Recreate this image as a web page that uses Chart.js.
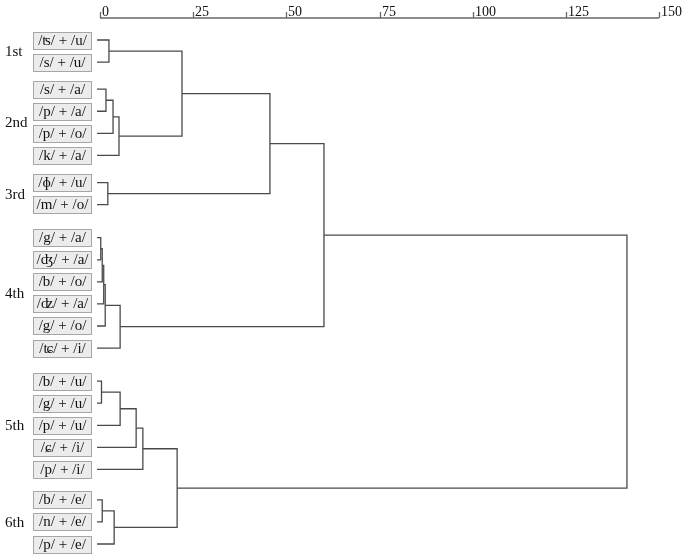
<!DOCTYPE html>
<html><head><meta charset="utf-8">
<script src="https://cdn.jsdelivr.net/npm/chart.js@4/dist/chart.umd.min.js"></script>
<style>html,body{margin:0;padding:0;background:#fff}#wrap{width:686px;height:557px}</style>
</head><body><div id="wrap"><canvas id="c" width="686" height="557"></canvas></div>
<script>
// ---- data ----
const groupNames = ['1st', '2nd', '3rd', '4th', '5th', '6th'];
const groupSizes = [2, 4, 2, 6, 5, 3];
const leafLabels = [
  '/ʦ/ + /u/', '/s/ + /u/',
  '/s/ + /a/', '/p/ + /a/', '/p/ + /o/', '/k/ + /a/',
  '/ɸ/ + /u/', '/m/ + /o/',
  '/g/ + /a/', '/ʤ/ + /a/', '/b/ + /o/', '/ʣ/ + /a/', '/g/ + /o/', '/ʨ/ + /i/',
  '/b/ + /u/', '/g/ + /u/', '/p/ + /u/', '/ɕ/ + /i/', '/p/ + /i/',
  '/b/ + /e/', '/n/ + /e/', '/p/ + /e/'
];
// merges: ids < 22 are leaves, id 22+k is the k-th merge below
const mergeA    = [8,   22,  23,  24,  14,  19,  2,   6,   0,   28,  27,  31,  25,  26,  35,  36,   37,   30,   39,   40,   41];
const mergeB    = [9,   10,  11,  12,  15,  20,  3,   7,   1,   4,   21,  5,   13,  16,  17,  18,   32,   33,   29,   34,   38];
const mergeDist = [0.2, 0.6, 1.0, 1.4, 0.4, 0.6, 1.6, 2.1, 2.4, 3.5, 3.8, 5.1, 5.4, 5.4, 9.7, 11.5, 20.7, 22.0, 45.6, 60.1, 141.4];
const xTicks = [0, 25, 50, 75, 100, 125, 150];

// ---- layout (derived) ----
const GROUP_GAPS = [0, 0.23, 0.23, 0.5, 0.5, 0.38]; // extra space before each group, in rows
const LEAF_START = -0.8;
const nodes = [];
let row = 0, off = 0;
const groupCenters = [];
groupSizes.forEach((n, g) => {
  off += GROUP_GAPS[g];
  const ys = [];
  for (let i = 0; i < n; i++) { const y = row + off; nodes.push({x: LEAF_START, y}); ys.push(y); row++; }
  groupCenters.push((ys[0] + ys[ys.length - 1]) / 2);
});
const lastY = nodes[nodes.length - 1].y;
const LINE = '#4a4a4a';
const datasets = [];
mergeA.forEach((a, k) => {
  const A = nodes[a], B = nodes[mergeB[k]], d = mergeDist[k];
  datasets.push({
    data: [{x: A.x, y: A.y}, {x: d, y: A.y}, {x: d, y: B.y}, {x: B.x, y: B.y}],
    showLine: true, borderColor: LINE, borderWidth: 1.3, pointRadius: 0, fill: false, tension: 0, clip: false
  });
  nodes.push({x: d, y: (A.y + B.y) / 2});
});

const SERIF = '"Liberation Serif", "Times New Roman", serif';
const deco = {
  id: 'deco',
  afterDraw(chart) {
    const ctx = chart.ctx, xs = chart.scales.x, ys = chart.scales.y;
    ctx.save();
    // top axis
    ctx.strokeStyle = '#666'; ctx.lineWidth = 1.3;
    const axY = 18;
    ctx.beginPath();
    ctx.moveTo(xs.getPixelForValue(xTicks[0]), axY);
    ctx.lineTo(xs.getPixelForValue(xTicks[xTicks.length - 1]), axY);
    ctx.stroke();
    ctx.fillStyle = '#111';
    ctx.font = '14px ' + SERIF;
    ctx.textAlign = 'left'; ctx.textBaseline = 'alphabetic';
    xTicks.forEach(t => {
      const px = Math.round(xs.getPixelForValue(t)) + 0.5;
      ctx.beginPath(); ctx.moveTo(px, 12); ctx.lineTo(px, axY); ctx.stroke();
      ctx.fillText(String(t), px + 1.5, 15.5);
    });
    // leaf boxes
    ctx.font = '15px ' + SERIF;
    ctx.textAlign = 'center'; ctx.textBaseline = 'alphabetic';
    leafLabels.forEach((lab, i) => {
      const py = ys.getPixelForValue(nodes[i].y);
      const top = Math.round(py - 8.5) + 0.5;
      ctx.fillStyle = '#ececec';
      ctx.fillRect(33.5, top, 58, 17);
      ctx.strokeStyle = '#a6a6a6'; ctx.lineWidth = 1;
      ctx.strokeRect(33.5, top, 58, 17);
      ctx.fillStyle = '#111';
      ctx.fillText(lab, 62.5, top + 12.5);
    });
    // group labels
    ctx.font = '15px ' + SERIF;
    ctx.textAlign = 'left'; ctx.textBaseline = 'middle';
    groupNames.forEach((g, i) => {
      ctx.fillText(g, 5, ys.getPixelForValue(groupCenters[i]) + 1);
    });
    ctx.restore();
  }
};

new Chart(document.getElementById('c'), {
  type: 'scatter',
  data: {datasets},
  options: {
    responsive: false, animation: false, devicePixelRatio: 1,
    layout: {padding: {left: 100, right: 27, top: 40, bottom: 13}},
    scales: {
      x: {type: 'linear', min: xTicks[0], max: xTicks[xTicks.length - 1], display: false},
      y: {type: 'linear', reverse: true, min: 0, max: lastY, display: false}
    },
    plugins: {legend: {display: false}, tooltip: {enabled: false}}
  },
  plugins: [deco]
});
</script></body></html>
